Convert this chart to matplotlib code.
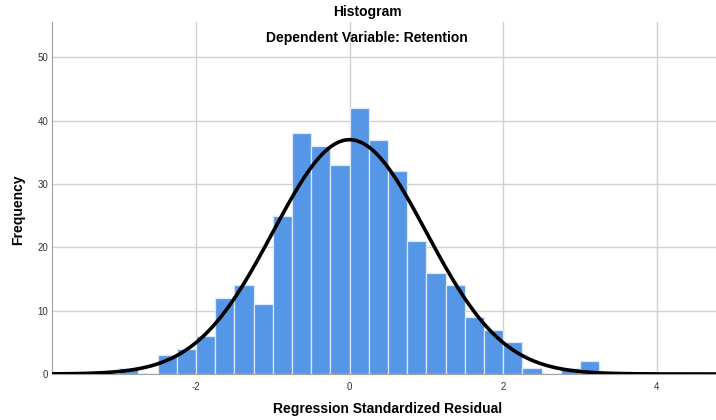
import numpy as np
import matplotlib.pyplot as plt

plt.rcParams['font.family'] = ['Liberation Sans', 'DejaVu Sans']
plt.rcParams['axes.unicode_minus'] = False

# bin left edges (width 0.25) and counts
bin_left = [-3.0, -2.75, -2.5, -2.25, -2.0, -1.75, -1.5, -1.25, -1.0, -0.75, -0.5, -0.25,
            0.0, 0.25, 0.5, 0.75, 1.0, 1.25, 1.5, 1.75, 2.0, 2.25, 2.5, 2.75, 3.0]
counts = [1, 0, 3, 4, 6, 12, 14, 11, 25, 38, 36, 33,
          42, 37, 32, 21, 16, 14, 9, 7, 5, 1, 0, 1, 2]
bin_width = 0.25
mean = 0.0
std_dev = 0.997
n = sum(counts)

fig = plt.figure(figsize=(7.16, 4.2), dpi=100)
ax = fig.add_axes([0.073, 0.1095, 0.927, 0.838])

ax.bar(bin_left, counts, width=bin_width, align='edge', color='#5596e6',
       edgecolor='#dde9fa', linewidth=0.9, zorder=2)

xs = np.linspace(-3.87, 4.77, 500)
ys = n * bin_width / (std_dev * np.sqrt(2 * np.pi)) * np.exp(-0.5 * ((xs - mean) / std_dev) ** 2)
ax.plot(xs, ys, color='black', linewidth=2.6, zorder=3)

ax.set_xlim(-3.87, 4.77)
ax.set_ylim(0, 55.6)
ax.set_xticks([-2, 0, 2, 4])
ax.set_yticks([0, 10, 20, 30, 40, 50])
ax.grid(True, color='#d0d0d0', linewidth=1.0, zorder=0)
ax.set_axisbelow(True)
ax.tick_params(length=0, labelsize=7, colors='#333333')
ax.tick_params(axis='x', pad=6)
ax.tick_params(axis='y', pad=3)
for s in ['top', 'right']:
    ax.spines[s].set_visible(False)
ax.spines['left'].set_color('#a0a0a0')
ax.spines['bottom'].set_color('#a0a0a0')

fig.text(18 / 716, 1 - 210 / 420, 'Frequency', rotation=90, ha='center', va='center',
         fontsize=10, fontweight='bold')
fig.text(388 / 716, 1 - 409 / 420, 'Regression Standardized Residual', ha='center', va='center',
         fontsize=10, fontweight='bold')

fig.text(0.513, 0.972, 'Histogram', ha='center', va='center', fontsize=10, fontweight='bold')
fig.text(0.513, 0.91, 'Dependent Variable: Retention', ha='center', va='center',
         fontsize=10, fontweight='bold')

fig.savefig('out.png', dpi=100)
